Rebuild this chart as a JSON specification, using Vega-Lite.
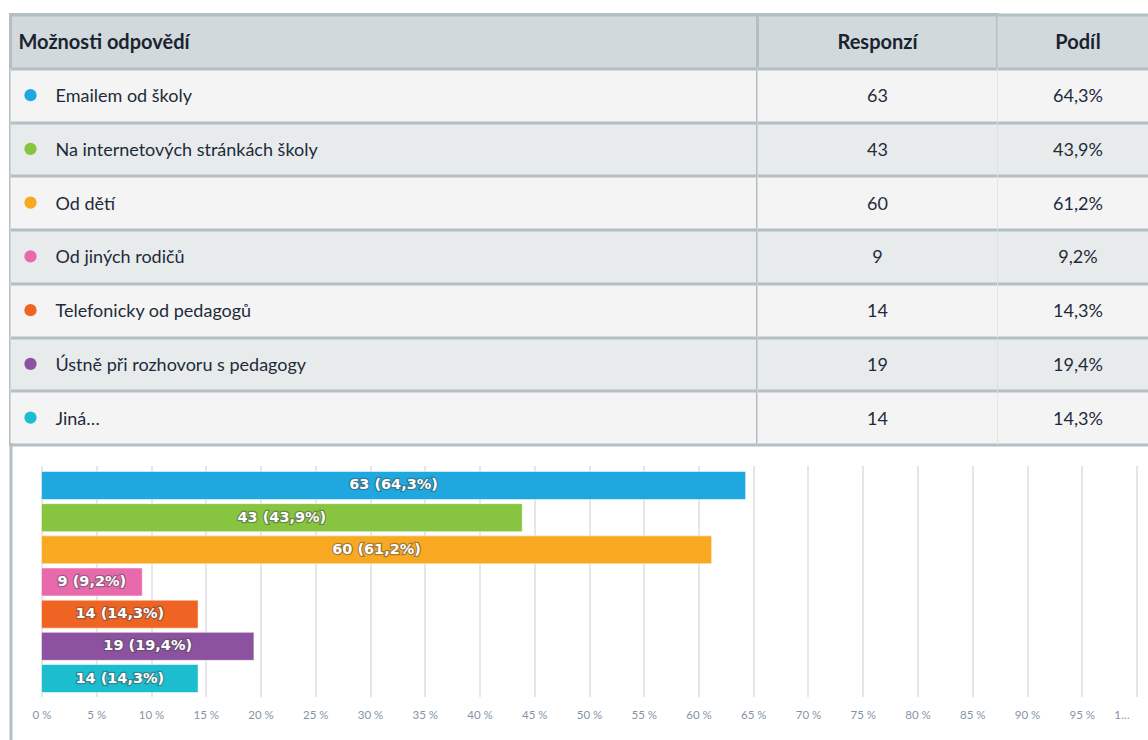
{
  "$schema": "https://vega.github.io/schema/vega-lite/v6.json",
  "background": "white",
  "padding": {"left": 8.5, "top": 12.5, "right": 0, "bottom": 0},
  "spacing": 14,
  "config": {"font": "Lato", "view": {"stroke": null}},
  "datasets": {
    "answers": [
      {"option": "Emailem od školy", "count": 63, "share": 64.3},
      {"option": "Na internetových stránkách školy", "count": 43, "share": 43.9},
      {"option": "Od dětí", "count": 60, "share": 61.2},
      {"option": "Od jiných rodičů", "count": 9, "share": 9.2},
      {"option": "Telefonicky od pedagogů", "count": 14, "share": 14.3},
      {"option": "Ústně při rozhovoru s pedagogy", "count": 19, "share": 19.4},
      {"option": "Jiná…", "count": 14, "share": 14.3}
    ]
  },
  "vconcat": [
    {
      "hconcat": [
        {
          "width": 747,
          "height": 430,
          "view": {"fill": "#d2d9dc", "stroke": "#b3bfc3", "strokeWidth": 3},
          "data": {"name": "answers"},
          "encoding": {
            "y": {
              "field": "option", "type": "nominal",
              "scale": {"domain": ["_header", "Emailem od školy", "Na internetových stránkách školy", "Od dětí", "Od jiných rodičů", "Telefonicky od pedagogů", "Ústně při rozhovoru s pedagogy", "Jiná…"], "paddingInner": 0, "paddingOuter": 0},
              "axis": {"labels": false, "ticks": false, "domain": false, "title": null, "grid": true, "tickBand": "extent", "gridColor": "#b3bfc3", "gridWidth": 3, "gridOpacity": 1, "zindex": 1}
            }
          },
          "layer": [
            {
              "transform": [{"window": [{"op": "row_number", "as": "idx"}]}],
              "mark": {"type": "rect"},
              "encoding": {"fill": {"condition": {"test": "datum.idx % 2 === 0", "value": "#e8ebec"}, "value": "#f4f4f4"}}
            },
            {
              "mark": {"type": "point", "shape": "circle", "filled": true, "size": 150, "opacity": 1},
              "encoding": {
                "x": {"value": 20},
                "color": {"field": "option", "type": "nominal", "legend": null,
                  "scale": {"domain": ["Emailem od školy", "Na internetových stránkách školy", "Od dětí", "Od jiných rodičů", "Telefonicky od pedagogů", "Ústně při rozhovoru s pedagogy", "Jiná…"],
                            "range": ["#1fa8e0", "#87c440", "#f9a822", "#e86aad", "#f06423", "#8c52a0", "#1bbdcf"]}}
              }
            },
            {
              "mark": {"type": "text", "align": "left", "baseline": "middle", "fontSize": 18, "color": "#1e2b3a", "dy": 2},
              "encoding": {"x": {"value": 45}, "text": {"field": "option"}}
            },
            {
              "data": {"values": [{"header": "Možnosti odpovědí"}]},
              "mark": {"type": "text", "align": "left", "baseline": "middle", "fontSize": 20, "fontWeight": "bold", "color": "#1a2330", "dy": 2},
              "encoding": {"x": {"value": 8}, "y": {"datum": "_header"}, "text": {"field": "header"}}
            }
          ]
        },
        {
          "width": 240,
          "height": 430,
          "view": {"fill": "#d2d9dc", "stroke": "#b3bfc3", "strokeWidth": 3},
          "data": {"name": "answers"},
          "encoding": {
            "y": {
              "field": "option", "type": "nominal",
              "scale": {"domain": ["_header", "Emailem od školy", "Na internetových stránkách školy", "Od dětí", "Od jiných rodičů", "Telefonicky od pedagogů", "Ústně při rozhovoru s pedagogy", "Jiná…"], "paddingInner": 0, "paddingOuter": 0},
              "axis": {"labels": false, "ticks": false, "domain": false, "title": null, "grid": true, "tickBand": "extent", "gridColor": "#b3bfc3", "gridWidth": 3, "gridOpacity": 1, "zindex": 1}
            }
          },
          "layer": [
            {
              "transform": [{"window": [{"op": "row_number", "as": "idx"}]}],
              "mark": {"type": "rect"},
              "encoding": {"fill": {"condition": {"test": "datum.idx % 2 === 0", "value": "#e8ebec"}, "value": "#f4f4f4"}}
            },
            {
              "mark": {"type": "text", "baseline": "middle", "fontSize": 18, "color": "#1e2b3a", "dy": 2},
              "encoding": {"text": {"field": "count", "type": "quantitative"}}
            },
            {
              "data": {"values": [{"header": "Responzí"}]},
              "mark": {"type": "text", "baseline": "middle", "fontSize": 20, "fontWeight": "bold", "color": "#1a2330", "dy": 2},
              "encoding": {"y": {"datum": "_header"}, "text": {"field": "header"}}
            }
          ]
        },
        {
          "width": 151,
          "height": 430,
          "view": {"fill": "#d2d9dc", "stroke": null},
          "data": {"name": "answers"},
          "encoding": {
            "y": {
              "field": "option", "type": "nominal",
              "scale": {"domain": ["_header", "Emailem od školy", "Na internetových stránkách školy", "Od dětí", "Od jiných rodičů", "Telefonicky od pedagogů", "Ústně při rozhovoru s pedagogy", "Jiná…"], "paddingInner": 0, "paddingOuter": 0},
              "axis": {"labels": false, "ticks": false, "domain": false, "title": null, "grid": true, "tickBand": "extent", "gridColor": "#b3bfc3", "gridWidth": 3, "gridOpacity": 1, "zindex": 1}
            }
          },
          "layer": [
            {
              "transform": [{"window": [{"op": "row_number", "as": "idx"}]}],
              "mark": {"type": "rect"},
              "encoding": {"fill": {"condition": {"test": "datum.idx % 2 === 0", "value": "#e8ebec"}, "value": "#f4f4f4"}}
            },
            {
              "transform": [{"calculate": "replace(format(datum.share, '.1f'), '.', ',') + '%'", "as": "shareText"}],
              "mark": {"type": "text", "baseline": "middle", "fontSize": 18, "color": "#1e2b3a", "dy": 2, "dx": 5},
              "encoding": {"text": {"field": "shareText"}}
            },
            {
              "data": {"values": [{"header": "Podíl"}]},
              "mark": {"type": "text", "baseline": "middle", "fontSize": 20, "fontWeight": "bold", "color": "#1a2330", "dy": 2, "dx": 5},
              "encoding": {"y": {"datum": "_header"}, "text": {"field": "header"}}
            }
          ]
        }
      ],
      "spacing": 0,
      "bounds": "flush"
    },
    {
      "width": 1138,
      "height": 231,
      "data": {"name": "answers"},
      "resolve": {"scale": {"y": "independent"}, "axis": {"y": "independent"}},
      "layer": [
        {
          "mark": {"type": "point", "opacity": 0},
          "encoding": {
            "y": {
              "field": "option", "type": "nominal", "sort": null,
              "scale": {"range": [-23, 274]},
              "axis": {"orient": "left", "domain": true, "domainColor": "#b3bfc3", "domainWidth": 3, "ticks": false, "labels": false, "grid": false, "title": null}
            }
          }
        },
        {
          "transform": [
            {"calculate": "datum.share / 2", "as": "mid"},
            {"calculate": "datum.count + ' (' + replace(format(datum.share, '.1f'), '.', ',') + '%)'", "as": "label"}
          ],
          "encoding": {
            "y": {
              "field": "option", "type": "nominal", "sort": null,
              "scale": {"domain": ["Emailem od školy", "Na internetových stránkách školy", "Od dětí", "Od jiných rodičů", "Telefonicky od pedagogů", "Ústně při rozhovoru s pedagogy", "Jiná…"],
                        "paddingInner": 0.1296, "paddingOuter": 0.1554, "align": 0.6},
              "axis": null
            }
          },
          "layer": [
            {
              "mark": {"type": "bar", "stroke": "#ffffff", "strokeWidth": 1, "strokeOpacity": 0.5},
              "encoding": {
                "x": {
                  "field": "share", "type": "quantitative",
                  "scale": {"domain": [0, 100], "range": [31, 1126], "nice": false, "zero": true},
                  "axis": {
                    "values": [0, 5, 10, 15, 20, 25, 30, 35, 40, 45, 50, 55, 60, 65, 70, 75, 80, 85, 90, 95, 100],
                    "labelExpr": "datum.value === 100 ? '1…' : datum.value + ' %'",
                    "labelOffset": {"condition": {"test": "datum.value === 100", "value": -15}, "value": 0},
                    "grid": false,
                    "ticks": true, "tickSize": -231, "tickColor": "#e6e6e6", "tickWidth": 2,
                    "domain": false, "labelPadding": 244,
                    "labelFontSize": 11.5, "labelColor": "#8594a4", "labelFont": "Lato",
                    "labelOverlap": false, "labelFlush": false, "title": null
                  }
                },
                "color": {"field": "option", "type": "nominal", "legend": null,
                  "scale": {"domain": ["Emailem od školy", "Na internetových stránkách školy", "Od dětí", "Od jiných rodičů", "Telefonicky od pedagogů", "Ústně při rozhovoru s pedagogy", "Jiná…"],
                            "range": ["#1fa8e0", "#87c440", "#f9a822", "#e86aad", "#f06423", "#8c52a0", "#1bbdcf"]}}
              }
            },
            {
              "mark": {"type": "text", "font": "DejaVu Sans", "fontWeight": "bold", "fontSize": 14.5, "baseline": "middle", "fill": "#4a4a4a", "stroke": "#4a4a4a", "strokeWidth": 2.5, "strokeOpacity": 0.6, "opacity": 0.8},
              "encoding": {"x": {"field": "mid", "type": "quantitative"}, "text": {"field": "label"}}
            },
            {
              "mark": {"type": "text", "font": "DejaVu Sans", "fontWeight": "bold", "fontSize": 14.5, "baseline": "middle", "fill": "#ffffff"},
              "encoding": {"x": {"field": "mid", "type": "quantitative"}, "text": {"field": "label"}}
            }
          ]
        }
      ]
    }
  ]
}
